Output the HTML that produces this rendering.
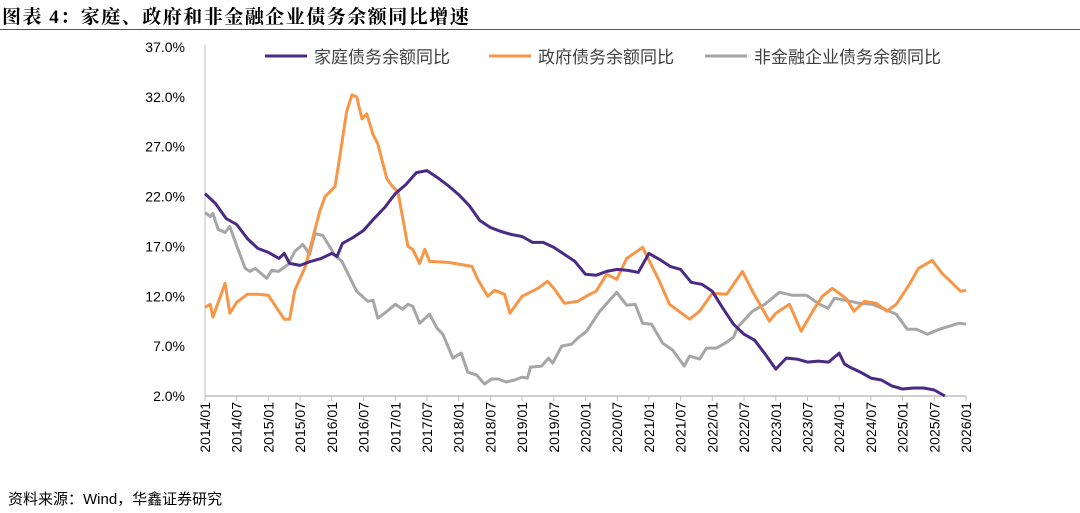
<!DOCTYPE html>
<html><head><meta charset="utf-8">
<style>
html,body{margin:0;padding:0;background:#fff;}
body{width:1080px;height:513px;overflow:hidden;position:relative;font-family:"Liberation Sans","Noto Sans CJK SC",sans-serif;}
#title{position:absolute;left:2px;top:2px;font-size:19px;letter-spacing:1.5px;font-weight:bold;color:#000;font-family:"Liberation Serif","Noto Serif CJK SC",serif;}
#rule{position:absolute;left:0;top:29px;width:1080px;height:1px;background:#555;}
#src{position:absolute;left:8px;top:488px;font-size:15px;color:#000;}
svg{position:absolute;left:0;top:0;}
</style></head><body>
<div id="title">图表 4：家庭、政府和非金融企业债务余额同比增速</div>
<div id="rule"></div>
<svg id="chart" width="1080" height="513"></svg>
<div id="src">资料来源：Wind，华鑫证券研究</div>
<script>
const yTicks=[2,7,12,17,22,27,32,37];
const xLabels=["2014/01","2014/07","2015/01","2015/07","2016/01","2016/07","2017/01","2017/07","2018/01","2018/07","2019/01","2019/07","2020/01","2020/07","2021/01","2021/07","2022/01","2022/07","2023/01","2023/07","2024/01","2024/07","2025/01","2025/07","2026/01"];
const seriesNames=["家庭债务余额同比","政府债务余额同比","非金融企业债务余额同比"];
const houseMonths=[0,2,4,6,8,10,12,14,15,16,18,20,22,24,25,26,28,30,32,34,36,38,40,42,44,46,48,50,52,54,56,58,60,62,64,66,68,70,72,74,76,78,80,82,84,86,88,90,92,94,96,98,100,102,104,106,108,110,112,114,116,118,120,121,122,124,126,128,130,132,134,136,138,140];
const houseVals=[22.3,21.3,19.8,19.2,17.8,16.8,16.4,15.8,16.3,15.3,15.1,15.5,15.8,16.3,16.0,17.3,17.9,18.6,19.8,20.9,22.3,23.2,24.4,24.6,23.9,23.1,22.2,21.1,19.6,18.9,18.5,18.2,18.0,17.4,17.4,16.9,16.2,15.5,14.2,14.1,14.5,14.7,14.6,14.4,16.3,15.7,15.0,14.7,13.4,13.2,12.5,10.8,9.2,8.2,7.6,6.2,4.7,5.8,5.7,5.4,5.5,5.4,6.3,5.2,4.9,4.4,3.8,3.6,3.0,2.7,2.8,2.8,2.6,2.0];
const govMonths=[0,1,1.5,3.8,4.7,6,8,10,12,13.6,15,16,17,19,21.7,22.7,24.6,25.5,26.8,27.8,28.7,29.7,30.6,31.8,32.7,34.4,35.5,36.5,38.4,39.3,40.6,41.6,42.5,46,50.5,51.6,53.5,54.8,56.7,57.7,60,63,64.8,66,68,70.5,72.8,74,76,77.9,79.8,82.8,86,87.9,91.7,93.6,96,98.7,101.7,103.6,106.8,108,110.6,112.8,115,116.8,118.7,121.3,122.8,124.8,127,129,130.8,133.3,135,137.6,139.5,143,144];
const govVals=[10.9,11.2,9.9,13.3,10.3,11.4,12.2,12.2,12.1,10.8,9.7,9.7,12.6,15.0,20.5,22.0,23.0,26.0,30.5,32.2,32.0,29.8,30.3,28.2,27.3,23.8,23.0,22.5,17.0,16.7,15.3,16.7,15.5,15.4,15.0,13.7,12.0,12.6,12.2,10.3,12.0,12.8,13.5,12.8,11.3,11.5,12.2,12.5,14.2,13.7,15.8,16.9,13.5,11.2,9.7,10.5,12.3,12.2,14.5,12.5,9.5,10.3,11.2,8.5,10.5,12.0,12.8,11.8,10.5,11.5,11.3,10.5,11.2,13.2,14.8,15.6,14.3,12.5,12.6];
const corpMonths=[0,1,1.5,2.5,3.8,4.7,5.7,7.6,8.5,9.5,11.7,12.6,13.9,15.7,17,18.5,19.8,20.8,22.3,24.6,25.9,28.7,30.8,31.8,32.7,34,36,37.4,38.4,39.3,40.6,42.5,43.9,45,46.9,48.5,49.7,51.4,52.9,54.2,55.5,57,58.6,60,61,61.6,63.7,65,65.8,67.5,69.4,70.5,72.2,74.7,77.9,79.8,81.4,82.8,84.5,86.6,88.5,90.7,91.7,93.6,94.9,96.8,98.7,100,100.8,103.6,105.9,108.7,111.2,113.8,116.3,117.9,119.1,121.3,123.8,126.3,128.2,130.8,132.9,134.6,136.7,139,142.7,144];
const corpVals=[20.4,20.0,20.3,18.7,18.4,19.0,17.5,14.8,14.5,14.8,13.8,14.6,14.5,15.2,16.5,17.2,16.2,18.3,18.1,16.1,15.5,12.5,11.5,11.6,9.8,10.3,11.2,10.7,11.2,11.0,9.3,10.2,8.8,8.2,5.8,6.3,4.4,4.1,3.2,3.7,3.7,3.4,3.6,3.9,3.8,4.9,5.0,5.8,5.3,7.0,7.2,7.8,8.5,10.5,12.4,11.1,11.2,9.3,9.2,7.3,6.6,5.0,6.0,5.7,6.8,6.8,7.4,7.9,8.9,10.5,11.2,12.4,12.1,12.1,11.2,10.8,11.8,11.6,11.3,11.2,10.8,10.2,8.7,8.7,8.2,8.7,9.3,9.2];

const svg=document.getElementById('chart');
const NS='http://www.w3.org/2000/svg';
const X0=205,X1=966,Y0=396,Y1=47,YMIN=2,YMAX=37,NM=144;
function xs(m){return X0+(X1-X0)*m/NM;}
function ys(v){return Y0-(Y0-Y1)*(v-YMIN)/(YMAX-YMIN);}
function mk(t,a){const e=document.createElementNS(NS,t);for(const k in a)e.setAttribute(k,a[k]);svg.appendChild(e);return e;}
yTicks.forEach(v=>{
  const t=mk('text',{x:185,y:ys(v)+5,'text-anchor':'end','font-size':14,fill:'#000','font-family':'Liberation Sans, sans-serif'});
  t.textContent=v.toFixed(1)+'%';
  
  
});
const ya=mk('line',{x1:X0,y1:Y1-2,x2:X0,y2:Y0,stroke:'#bfbfbf','stroke-width':1});


const xa=mk('line',{x1:X0,y1:Y0,x2:X1,y2:Y0,stroke:'#bfbfbf','stroke-width':1.5});


xLabels.forEach((l,i)=>{
  const x=xs(i*6);
  const tk=mk('line',{x1:x,y1:Y0,x2:x,y2:Y0+5,stroke:'#bfbfbf','stroke-width':1});
  
  
  const t=mk('text',{x:0,y:0,'text-anchor':'end','font-size':14,fill:'#000','font-family':'Liberation Sans, sans-serif',transform:`translate(${x+5},${Y0+6}) rotate(-90)`});
  t.textContent=l;
  
  
});
function line(ms,vs,color,name){
  const d=ms.map((m,i)=>(i?'L':'M')+xs(m).toFixed(1)+','+ys(vs[i]).toFixed(1)).join('');
  const p=mk('path',{d:d,fill:'none',stroke:color,'stroke-width':3,'stroke-linejoin':'round'});
  
  
}
line(corpMonths,corpVals,'#a6a6a6','corporate-debt-line');
line(govMonths,govVals,'#f79646','government-debt-line');
line(houseMonths,houseVals,'#4b2a85','household-debt-line');
const lg=[[265,'#4b2a85'],[489,'#f79646'],[705,'#a6a6a6']];
lg.forEach((g,i)=>{
  const l=mk('line',{x1:g[0],y1:56,x2:g[0]+42,y2:56,stroke:g[1],'stroke-width':3});
  
  
  const t=mk('text',{x:g[0]+49,y:63,'font-size':17,fill:'#404040','font-family':'Liberation Sans, Noto Sans CJK SC, sans-serif'});
  t.textContent=seriesNames[i];
  
  
});
</script>
</body></html>
